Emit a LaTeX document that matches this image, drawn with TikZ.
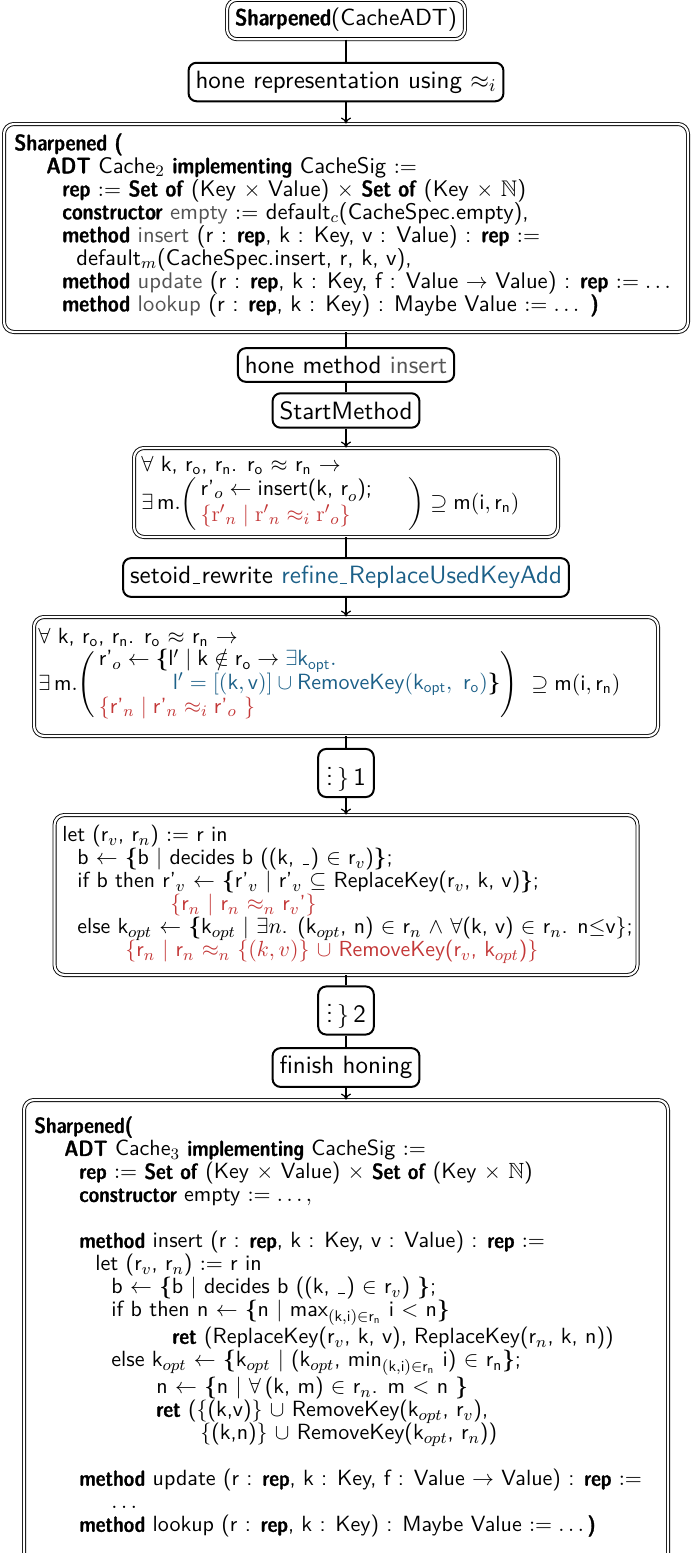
\documentclass[tikz,border=0pt]{standalone}
\usepackage{amsmath,amssymb}
\usepackage{fontspec}
\setsansfont{lmsans10-regular.otf}[Ligatures=TeX, BoldFont=lmsansdemicond10-regular.otf, BoldFeatures={FakeBold=1.3}, ItalicFont=lmsans10-oblique.otf, BoldItalicFont=lmsansdemicond10-oblique.otf]
\usetikzlibrary{calc,arrows.meta}
\definecolor{myred}{RGB}{195,55,55}
\definecolor{myblue}{RGB}{28,96,136}
\definecolor{mygray}{RGB}{85,85,85}
\newcommand{\us}{\leavevmode\kern.06em\vbox{\hrule width.3em}\kern.06em}
\tikzset{
  basefont/.style={font=\sffamily\fontsize{11}{11.5}\selectfont},
  bigfont/.style={font=\sffamily\fontsize{12.5}{13}\selectfont},
  sbox/.style={bigfont, draw, line width=1pt, rounded corners=4pt, inner xsep=3.5pt, inner ysep=4pt},
  dbox/.style={draw, double, line width=0.45pt, double distance=1.1pt, rounded corners=5pt, inner sep=0pt},
  dtbox/.style={dbox, font=\sffamily\fontsize{11.7}{12}\selectfont, inner xsep=4pt, inner ysep=4pt},
  txt/.style={basefont, anchor=north west, inner sep=0pt, align=left},
  conn/.style={line width=0.6pt},
  arr/.style={line width=0.6pt, -{To[length=3pt,width=5pt]}}
}
\begin{document}
\begin{tikzpicture}[x=0.5pt,y=-0.5pt]
\useasboundingbox (0,0) rectangle (700,1553);
\begin{scope}
\clip (0,0) rectangle (700,1553);
\node[dtbox] (b1) at (346,19.5) {\textbf{Sharpened}(CacheADT)};
\node[sbox] (b2) at (346,82) {hone representation using $\approx_i$};
\node[dbox, minimum width=342pt, minimum height=104pt] (b3) at (346,228) {};
\node[txt, font=\sffamily\fontsize{11.3}{11.5}\selectfont] (t3) at (14,133) {%
\textbf{Sharpened (}\\
\hspace*{16pt}\textbf{ADT} Cache$_2$ \textbf{implementing} CacheSig $:=$\\
\hspace*{24pt}\textbf{rep} $:=$ \textbf{Set of} (Key $\times$ Value) $\times$ \textbf{Set of} (Key $\times$ $\mathbb{N}$)\\
\hspace*{24pt}\textbf{constructor} \textcolor{mygray}{empty} $:=$ default$_c$(CacheSpec.empty),\\
\hspace*{24pt}\textbf{method} \textcolor{mygray}{insert} (r : \textbf{rep}, k : Key, v : Value) : \textbf{rep} $:=$\\
\hspace*{31pt}default$_m$(CacheSpec.insert, r, k, v),\\
\hspace*{24pt}\textbf{method} \textcolor{mygray}{update} (r : \textbf{rep}, k : Key, f : Value $\rightarrow$ Value) : \textbf{rep} $:= \dots$\\
\hspace*{24pt}\textbf{method} \textcolor{mygray}{lookup} (r : \textbf{rep}, k : Key) : Maybe Value $:= \dots$\ \textbf{)}};
\node[sbox] (b4) at (346,365) {hone method \textcolor{mygray}{insert}};
\node[sbox] (b5) at (346,410.5) {StartMethod};
\node[dbox, minimum width=212pt, minimum height=44.5pt] (b6) at (346,492.5) {};
\node[txt] (t6) at (141,456) {%
$\forall$ k, r$_\mathsf{o}$, r$_\mathsf{n}$. r$_\mathsf{o}$ $\approx$ r$_\mathsf{n}$ $\rightarrow$\\
$\exists\,\mathsf{m}.\!\left(\begin{array}{@{\,}l@{\hspace{18pt}}}
\text{r'}_{o} \leftarrow \text{insert(k, r}_{o}\text{);}\\[1pt]
{\color{myred}\{\mathrm{r'}_{n} \mid \mathrm{r'}_{n} \approx_i \mathrm{r'}_{o}\}}
\end{array}\right) \supseteq \mathsf{m}(\mathsf{i},\mathsf{r_n})$};
\node[sbox] (b7) at (346,577.5) {setoid\us rewrite \textcolor{myblue}{refine\us ReplaceUsedKeyAdd}};
\node[dbox, minimum width=312pt, minimum height=59.5pt] (b8) at (346,676.5) {};
\node[txt] (t8) at (38,628) {%
$\forall$ k, r$_\mathsf{o}$, r$_\mathsf{n}$. r$_\mathsf{o}$ $\approx$ r$_\mathsf{n}$ $\rightarrow$\\
$\exists\,\mathsf{m}.\!\left(\begin{array}{@{\,}l@{}}
\text{r'}_{o} \leftarrow \boldsymbol{\{}\mathsf{l}' \mid \mathsf{k} \notin \mathsf{r_o} \rightarrow {\color{myblue}\exists\mathsf{k_{opt}}.}\\
\hspace{37pt}{\color{myblue}\mathsf{l}' = [(\mathsf{k},\mathsf{v})] \cup \text{RemoveKey}(\mathsf{k_{opt}},\ \mathsf{r_o})}\boldsymbol{\}}\\
{\color{myred}\{\text{r'}_{n} \mid \text{r'}_{n} \approx_i \text{r'}_{o}\ \}}
\end{array}\right)\ \supseteq \mathsf{m}(\mathsf{i},\mathsf{r_n})$};
\node[sbox, inner xsep=4pt, inner ysep=3pt] (b9) at (346,773) {$\vdots\,\}$\,1};
\node[dbox, minimum width=291.5pt, minimum height=80pt] (b10) at (346,895) {};
\node[txt, font=\sffamily\fontsize{10.9}{11.5}\selectfont] (t10) at (62,825) {%
let (r$_v$, r$_n$) $:=$ r in\\
\hspace*{7.5pt}b $\leftarrow$ $\boldsymbol{\{}$b $\mid$ decides b ((k, \us) $\in$ r$_v$)$\boldsymbol{\}}$;\\
\hspace*{7.5pt}if b then r'$_v$ $\leftarrow$ $\boldsymbol{\{}$r'$_v$ $\mid$ r'$_v$ $\subseteq$ ReplaceKey(r$_v$, k, v)$\boldsymbol{\}}$;\\
\hspace*{54pt}\textcolor{myred}{$\{$r$_n$ $\mid$ r$_n$ $\approx_n$ r$_v$'$\}$}\\
\hspace*{7.5pt}else k$_{opt}$ $\leftarrow$ $\boldsymbol{\{}$k$_{opt}$ $\mid$ $\exists n$. (k$_{opt}$, n) $\in$ r$_n$ $\wedge$ $\forall$(k, v) $\in$ r$_n$. n$\leq$v$\}$;\\
\hspace*{31.5pt}\textcolor{myred}{$\{$r$_n$ $\mid$ r$_n$ $\approx_n$ $\{(k, v)\}$ $\cup$ RemoveKey(r$_v$, k$_{opt}$)$\}$}};
\node[sbox, inner xsep=4pt, inner ysep=3pt] (b11) at (346,1010.5) {$\vdots\,\}$\,2};
\node[sbox] (b12) at (346,1067.5) {finish honing};
\node[dbox, minimum width=322pt, minimum height=232.5pt] (b13) at (346,1332.5) {};
\node[txt] (t13) at (34,1116) {%
\textbf{Sharpened(}\\
\hspace*{15pt}\textbf{ADT} Cache$_3$ \textbf{implementing} CacheSig $:=$\\
\hspace*{22.5pt}\textbf{rep} $:=$ \textbf{Set of} (Key $\times$ Value) $\times$ \textbf{Set of} (Key $\times$ $\mathbb{N}$)\\
\hspace*{22.5pt}\textbf{constructor} empty $:= \dots,$\\[11.5pt]
\hspace*{22.5pt}\textbf{method} insert (r : \textbf{rep}, k : Key, v : Value) : \textbf{rep} $:=$\\
\hspace*{30.5pt}let (r$_v$, r$_n$) $:=$ r in\\
\hspace*{38.5pt}b $\leftarrow$ $\boldsymbol{\{}$b $\mid$ decides b ((k, \us) $\in$ r$_v$) $\boldsymbol{\}}$;\\
\hspace*{38.5pt}if b then n $\leftarrow$ $\boldsymbol{\{}$n $\mid$ max$_{(\mathsf{k},\mathsf{i})\in\mathsf{r_n}}$ i $<$ n$\boldsymbol{\}}$\\
\hspace*{69pt}\textbf{ret} (ReplaceKey(r$_v$, k, v), ReplaceKey(r$_n$, k, n))\\
\hspace*{38.5pt}else k$_{opt}$ $\leftarrow$ $\boldsymbol{\{}$k$_{opt}$ $\mid$\ (k$_{opt}$, min$_{(\mathsf{k},\mathsf{i})\in\mathsf{r_n}}$ i) $\in$ r$_\mathsf{n}$$\boldsymbol{\}}$;\\
\hspace*{61pt}n $\leftarrow$ $\boldsymbol{\{}$n $\mid$ $\forall$\,(k, m) $\in$ r$_n$. m $<$ n $\boldsymbol{\}}$\\
\hspace*{61pt}\textbf{ret} ($\{$(k,v)$\}$ $\cup$ RemoveKey(k$_{opt}$, r$_v$),\\
\hspace*{83pt}$\{$(k,n)$\}$ $\cup$ RemoveKey(k$_{opt}$, r$_n$))\\[11.5pt]
\hspace*{22.5pt}\textbf{method} update (r : \textbf{rep}, k : Key, f : Value $\rightarrow$ Value) : \textbf{rep} $:=$\\
\hspace*{38.5pt}$\dots$\\
\hspace*{22.5pt}\textbf{method} lookup (r : \textbf{rep}, k : Key) : Maybe Value $:= \dots$\textbf{)}};
\end{scope}
% connectors
\draw[conn] (b1) -- (b2);
\draw[arr] (b2) -- (b3);
\draw[conn] (b3) -- (b4);
\draw[conn] (b4) -- (b5);
\draw[arr] (b5) -- (b6);
\draw[conn] (b6) -- (b7);
\draw[arr] (b7) -- (b8);
\draw[conn] (b8) -- (b9);
\draw[arr] (b9) -- (b10);
\draw[conn] (b10) -- (b11);
\draw[conn] (b11) -- (b12);
\draw[arr] (b12) -- (b13);
\end{tikzpicture}
\end{document}
